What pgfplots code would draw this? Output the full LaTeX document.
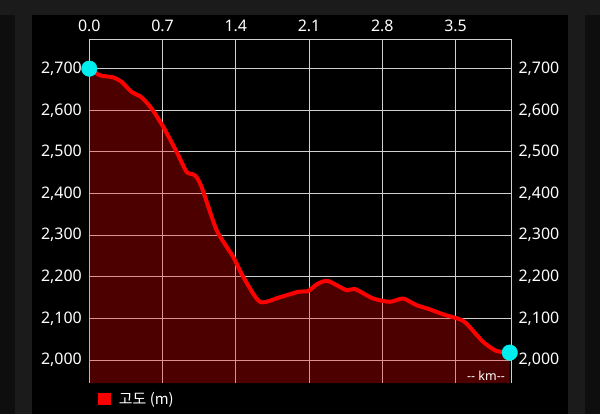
\documentclass[border=0pt]{standalone}
\usepackage{fontspec}
\setmainfont{Noto Sans}
\newfontfamily\kr{Noto Sans CJK KR}
\usepackage{pgfplots}
\usepackage{pgfplotstable}
\pgfplotsset{compat=1.18}
\definecolor{bgdark}{HTML}{0E0E0E}
\definecolor{bggray}{HTML}{1B1B1B}
\definecolor{gridc}{HTML}{D0D0D0}
\definecolor{dotc}{HTML}{00EEEE}

\pgfplotstableread{
x y
0.000 2700
0.102 2684
0.229 2679
0.309 2668
0.405 2644
0.500 2631
0.596 2604
0.707 2560
0.835 2500
0.930 2452
1.009 2444
1.073 2416
1.217 2312
1.375 2248
1.471 2200
1.630 2140
1.821 2151
1.996 2164
2.091 2166
2.187 2184
2.282 2190
2.458 2168
2.537 2171
2.712 2148
2.872 2140
2.999 2148
3.127 2132
3.254 2122
3.381 2110
3.540 2098
3.604 2088
3.763 2044
3.891 2022
4.018 2018
}\elev

\begin{document}
\begin{tikzpicture}
\fill[bggray] (0bp,0bp) rectangle (600bp,414bp);
\fill[bgdark] (0bp,0bp) rectangle (15bp,399bp);
\fill[bgdark] (585bp,0bp) rectangle (600bp,399bp);
\fill[black] (32bp,0bp) rectangle (568bp,399bp);
\useasboundingbox (0bp,0bp) rectangle (600bp,414bp);
\begin{axis}[
  at={(89.3bp,31bp)}, anchor=south west,
  scale only axis, width=421.7bp, height=343.5bp,
  xmin=0, xmax=4.03, ymin=1945, ymax=2770,
  axis line style={draw=none},
  xtick={0,0.7,1.4,2.1,2.8,3.5},
  xticklabels={0.0,0.7,1.4,2.1,2.8,3.5},
  xticklabel pos=upper,
  xticklabel style={yshift=4.5bp},
  ytick={2000,2100,2200,2300,2400,2500,2600,2700},
  yticklabels={{2,000},{2,100},{2,200},{2,300},{2,400},{2,500},{2,600},{2,700}},
  yticklabel pos=left,
  yticklabel style={xshift=-4bp},
  major tick length=0pt,
  grid=major, major grid style={gridc, line width=0.9bp},
  tick label style={font=\fontsize{16}{19}\selectfont, text=white},
  clip=false,
  legend style={at={(0,0)}, anchor=north west, draw=none, fill=none,
    text=white, font=\kr\fontsize{15}{18}\selectfont, inner sep=0pt,
    xshift=8.4bp, yshift=-7bp},
  legend cell align=left,
]
\draw[gridc, line width=0.9bp] (rel axis cs:0,1) -- (rel axis cs:1,1) -- (rel axis cs:1,0);
\addplot[draw=none, fill=red, fill opacity=0.3, smooth, tension=0.4, forget plot] table {\elev} \closedcycle;
\addplot[red, line width=4bp, line join=round, line cap=round, smooth, tension=0.4,
  legend image code/.code={\fill[red, draw=none] (0bp,-6bp) rectangle (13bp,6bp); \path[draw=none, fill=none] (19bp,0bp) circle (0.1bp);}] table {\elev};
\addlegendentry{고도 (m)}
\addplot[only marks, mark=*, mark size=7.8bp, dotc, forget plot] coordinates {(0,2700) (4.018,2018)};
\node[anchor=base east, text=white, font=\fontsize{12.5}{15}\selectfont, inner sep=0pt]
  at (rel axis cs:1,0) [xshift=-6bp, yshift=2.3bp] {{-}{-} km{-}{-}};
\end{axis}
\begin{axis}[
  at={(89.3bp,31bp)}, anchor=south west,
  scale only axis, width=421.7bp, height=343.5bp,
  xmin=0, xmax=4.03, ymin=1945, ymax=2770,
  axis line style={draw=none},
  xtick=\empty,
  ytick={2000,2100,2200,2300,2400,2500,2600,2700},
  yticklabels={{2,000},{2,100},{2,200},{2,300},{2,400},{2,500},{2,600},{2,700}},
  yticklabel pos=right,
  yticklabel style={xshift=4bp},
  major tick length=0pt,
  tick label style={font=\fontsize{16}{19}\selectfont, text=white},
]
\end{axis}
\end{tikzpicture}
\end{document}
